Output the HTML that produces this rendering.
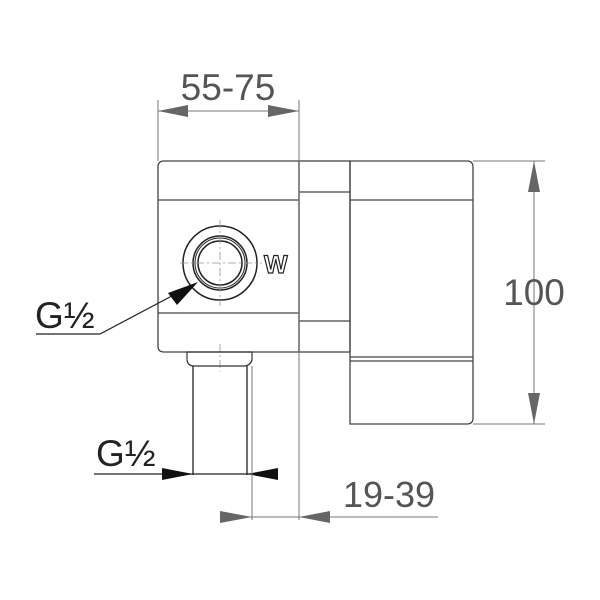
<!DOCTYPE html>
<html><head><meta charset="utf-8"><style>body{margin:0;background:#fff}svg{display:block}</style></head><body>
<svg width="600" height="600" viewBox="0 0 600 600" xmlns="http://www.w3.org/2000/svg" font-family="Liberation Sans, sans-serif">
<g fill="none" stroke="#444" stroke-width="1.3">
<path d="M164,161 H299 V352 H164 Q158,352 158,346 V167 Q158,161 164,161 Z"/>
<line x1="158" y1="200" x2="299" y2="200"/>
<line x1="158" y1="313" x2="299" y2="313"/>
<rect x="299" y="161" width="51" height="191"/>
<line x1="299" y1="192" x2="350" y2="192"/>
<line x1="299" y1="321" x2="350" y2="321"/>
<path d="M350,161 H467 Q473,161 473,167 V418 Q473,424 467,424 H350 Z"/>
<line x1="350" y1="200" x2="473" y2="200"/>
<line x1="350" y1="357" x2="473" y2="357"/>
<line x1="350" y1="361" x2="473" y2="361"/>
</g>
<g fill="none" stroke="#222" stroke-width="1.5">
<circle cx="220" cy="263" r="37"/>
<circle cx="220" cy="263" r="27"/>
<circle cx="220" cy="263" r="25" stroke-width="1"/>
<circle cx="220" cy="263" r="22"/>
</g>
<g stroke="#999" stroke-width="0.8" stroke-dasharray="8,3,2,3">
<line x1="220" y1="220" x2="220" y2="306"/>
<line x1="180" y1="263" x2="262" y2="263"/>
<line x1="220" y1="344" x2="220" y2="372"/>
</g>
<text x="264" y="273" font-size="25" font-weight="bold" fill="#fff" stroke="#222" stroke-width="1.2">W</text>
<path d="M187,352 H252 V360 Q250,366 244,366 H194 Q188,366 187,360 Z" fill="none" stroke="#333" stroke-width="1.2"/>
<g stroke="#222" stroke-width="1.3">
<line x1="193" y1="366" x2="193" y2="475"/>
<line x1="247" y1="366" x2="247" y2="475"/>
<line x1="94" y1="474" x2="278" y2="474"/>
</g>
<polygon points="162,468 193,474 162,480" fill="#111"/>
<polygon points="278,468 247,474 278,480" fill="#111"/>
<text x="96" y="466" font-size="37" fill="#222">G½</text>
<g stroke="#777" stroke-width="1">
<line x1="252" y1="366" x2="252" y2="520"/>
<line x1="299" y1="100" x2="299" y2="520"/>
<line x1="158" y1="100" x2="158" y2="161"/>
<line x1="220" y1="517" x2="438" y2="517"/>
<line x1="158" y1="111" x2="299" y2="111"/>
<line x1="473" y1="161" x2="545" y2="161"/>
<line x1="473" y1="424" x2="545" y2="424"/>
<line x1="534" y1="161" x2="534" y2="424"/>
</g>
<g fill="#666">
<polygon points="220,511 252,517 220,523"/>
<polygon points="330,511 299,517 330,523"/>
<polygon points="188,105 158,111 188,117"/>
<polygon points="268,105 299,111 268,117"/>
<polygon points="528,192 534,161 540,192"/>
<polygon points="528,393 534,424 540,393"/>
</g>
<text x="389" y="507" font-size="36" fill="#555" text-anchor="middle">19-39</text>
<text x="228" y="100" font-size="37" fill="#555" text-anchor="middle">55-75</text>
<text x="534" y="305" font-size="37" fill="#555" text-anchor="middle">100</text>
<polyline points="36,334 100,334 185,289" fill="none" stroke="#222" stroke-width="1.2"/>
<polygon points="198,282 168,293 177,305" fill="#111"/>
<text x="35" y="328" font-size="37" fill="#222">G½</text>
</svg>
</body></html>
